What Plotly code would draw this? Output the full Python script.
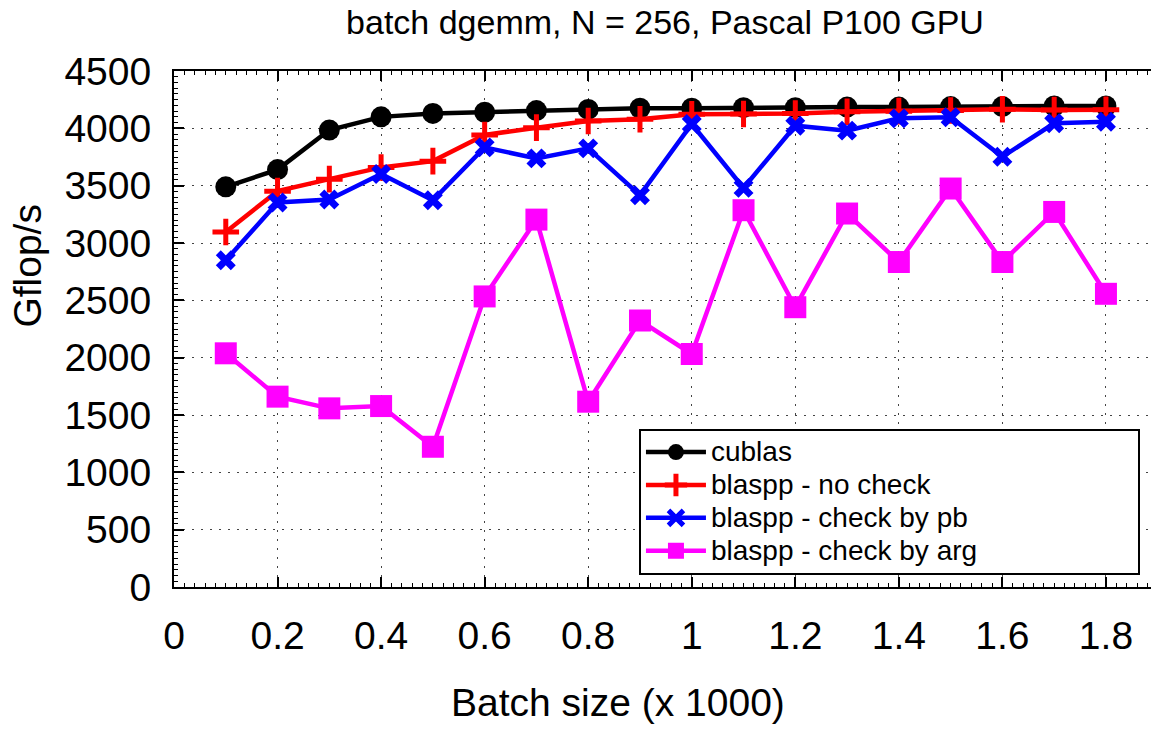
import plotly.graph_objects as go

# ---- data ----
batch_size = [0.1, 0.2, 0.3, 0.4, 0.5, 0.6, 0.7, 0.8, 0.9, 1.0,
              1.1, 1.2, 1.3, 1.4, 1.5, 1.6, 1.7, 1.8]
cublas = [3490, 3640, 3985, 4100, 4130, 4140, 4155, 4165, 4175, 4175,
          4180, 4180, 4185, 4185, 4190, 4190, 4195, 4195]
blaspp_no_check = [3096, 3452, 3557, 3659, 3714, 3942, 4006, 4064, 4079, 4122,
                   4125, 4130, 4145, 4150, 4155, 4166, 4160, 4162]
blaspp_check_pb = [2849, 3353, 3379, 3601, 3373, 3834, 3738, 3825, 3417, 4038,
                   3481, 4023, 3980, 4087, 4096, 3752, 4044, 4058]
blaspp_check_arg = [2038, 1660, 1558, 1578, 1223, 2534, 3204, 1616, 2324, 2032,
                    3286, 2440, 3257, 2834, 3475, 2834, 3271, 2557]

series_names = ["cublas", "blaspp - no check", "blaspp - check by pb", "blaspp - check by arg"]
x_tick_vals = [0, 0.2, 0.4, 0.6, 0.8, 1.0, 1.2, 1.4, 1.6, 1.8]
x_tick_text = ["0", "0.2", "0.4", "0.6", "0.8", "1", "1.2", "1.4", "1.6", "1.8"]
y_tick_vals = [0, 500, 1000, 1500, 2000, 2500, 3000, 3500, 4000, 4500]

FONT = "Liberation Sans, Arial, Helvetica, sans-serif"


def legend_label(name, pad=0):
    return '<span style="font-size:28px">' + name + "&nbsp;" * pad + "</span>"


fig = go.Figure()
fig.add_trace(go.Scatter(
    x=batch_size, y=cublas, name=legend_label(series_names[0]), mode="lines+markers",
    line=dict(color="#000000", width=4.5),
    marker=dict(symbol="circle", size=21, color="#000000")))
fig.add_trace(go.Scatter(
    x=batch_size, y=blaspp_no_check, name=legend_label(series_names[1]), mode="lines+markers",
    line=dict(color="#ff0000", width=4.5),
    marker=dict(symbol="cross-thin", size=19, color="#ff0000",
                line=dict(color="#ff0000", width=5))))
fig.add_trace(go.Scatter(
    x=batch_size, y=blaspp_check_pb, name=legend_label(series_names[2]), mode="lines+markers",
    line=dict(color="#0000ff", width=4.5),
    marker=dict(symbol="x-thin", size=15, color="#0000ff",
                line=dict(color="#0000ff", width=7))))
fig.add_trace(go.Scatter(
    x=batch_size, y=blaspp_check_arg, name=legend_label(series_names[3], pad=20),
    mode="lines+markers",
    line=dict(color="#ff00ff", width=4.5),
    marker=dict(symbol="square", size=22, color="#ff00ff")))

axis_common = dict(
    showline=True, linecolor="black", linewidth=2,
    ticks="inside", ticklen=10, tickwidth=1.5, tickcolor="black",
    showgrid=True, gridcolor="#444444", gridwidth=1, griddash="2px,7px",
    zeroline=False, automargin=False,
    tickfont=dict(family=FONT, size=39, color="black"),
)

fig.update_layout(
    width=1151, height=730,
    paper_bgcolor="white", plot_bgcolor="white",
    margin=dict(l=174, r=0, t=71, b=143, autoexpand=False),
    font=dict(family=FONT, color="black"),
    title=dict(text="batch dgemm, N = 256, Pascal P100 GPU",
               font=dict(family=FONT, size=34, color="black"),
               x=665 / 1151, xanchor="center", xref="container",
               y=1 - 22 / 730, yanchor="middle", yref="container"),
    xaxis=dict(range=[0, 1.887], tickvals=x_tick_vals, ticktext=x_tick_text,
               mirror="ticks", ticklabelstandoff=13,
               minor=dict(dtick=0.02, ticks="inside", ticklen=4,
                          tickcolor="black", tickwidth=1, showgrid=False),
               **axis_common),
    yaxis=dict(range=[0, 4500], tickvals=y_tick_vals, ticklabelstandoff=13,
               minor=dict(dtick=50, ticks="inside", ticklen=4,
                          tickcolor="black", tickwidth=1, showgrid=False),
               **axis_common),
    legend=dict(x=0.9887, xanchor="right", y=0.024, yanchor="bottom",
                bgcolor="white", bordercolor="black", borderwidth=2,
                font=dict(family=FONT, size=23, color="black"),
                tracegroupgap=0, itemwidth=60),
    annotations=[
        dict(text="Batch size (x 1000)", xref="paper", yref="paper",
             x=(618 - 174.5) / 976.5, y=(586.5 - 702) / 515.5,
             xanchor="center", yanchor="middle", showarrow=False,
             font=dict(family=FONT, size=39, color="black")),
        dict(text="Gflop/s", xref="paper", yref="paper",
             x=(28 - 174.5) / 976.5, y=(586.5 - 265) / 515.5,
             xanchor="center", yanchor="middle", textangle=-90, showarrow=False,
             font=dict(family=FONT, size=39, color="black")),
    ],
)

fig.write_html("out.html", config={"displayModeBar": False},
               post_script="document.body.style.margin='0';")
